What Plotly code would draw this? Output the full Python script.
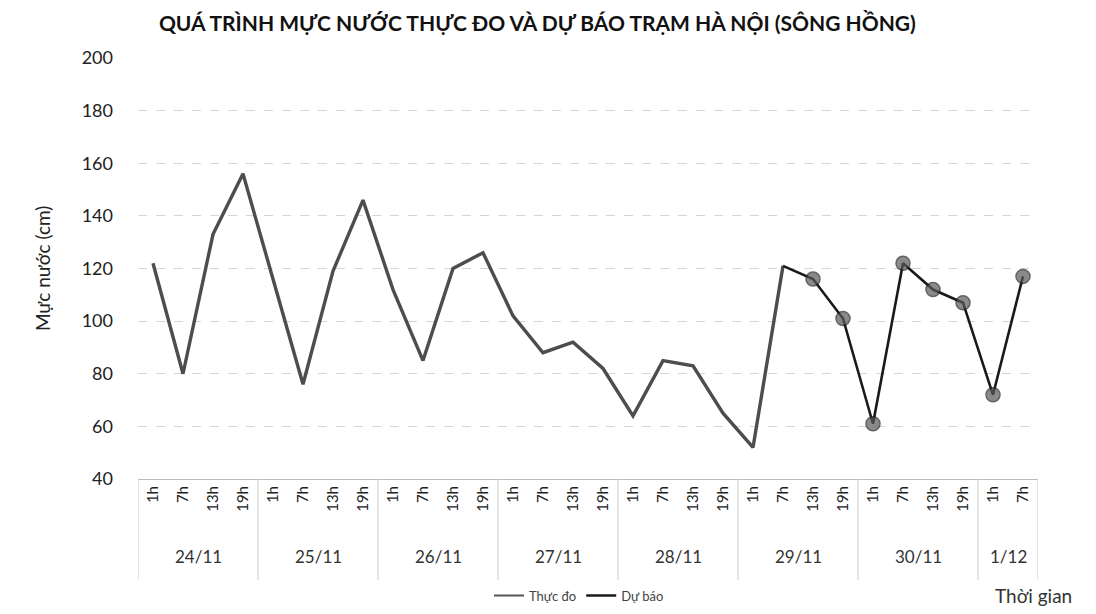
import plotly.graph_objects as go

days = ["24/11", "25/11", "26/11", "27/11", "28/11", "29/11", "30/11", "1/12"]
hours_per_day = [["1h", "7h", "13h", "19h"]] * 7 + [["1h", "7h"]]
hour_labels = [h for hs in hours_per_day for h in hs]
idx = list(range(len(hour_labels)))

observed = [122, 80, 133, 156, 116, 76, 119, 146, 112, 85,
            120, 126, 102, 88, 92, 82, 64, 85, 83, 65,
            52, 121]
forecast = [121, 116, 101, 61, 122, 112, 107, 72, 117]
forecast_start = 21

TITLE = "QUÁ TRÌNH MỰC NƯỚC THỰC ĐO VÀ DỰ BÁO TRẠM HÀ NỘI (SÔNG HỒNG)"
FONT = "Lato, Open Sans, sans-serif"

OBS_COLOR = "#4d4d4d"
FC_COLOR = "#1a1a1a"

fig = go.Figure()
fig.add_trace(go.Scatter(
    x=idx[:len(observed)], y=observed, mode="lines", name="Thực đo",
    line=dict(color=OBS_COLOR, width=3.4), showlegend=False,
))
fig.add_trace(go.Scatter(
    x=idx[forecast_start:forecast_start + len(forecast)], y=forecast,
    mode="lines+markers", name="Dự báo",
    line=dict(color=FC_COLOR, width=2.6),
    marker=dict(size=[0] + [14] * (len(forecast) - 1), color="#5a5a5a",
                line=dict(color="#222222", width=1.5)),
    showlegend=False,
))
# legend-only entries (line samples as in the reference)
fig.add_trace(go.Scatter(x=[None], y=[None], mode="lines", name="Thực đo",
                         line=dict(color="#555555", width=2)))
fig.add_trace(go.Scatter(x=[None], y=[None], mode="lines", name="Dự báo",
                         line=dict(color=FC_COLOR, width=2.6)))

annotations = []
shapes = []
start = 0
for d, hs in zip(days, hours_per_day):
    n = len(hs)
    center = start + (n - 1) / 2
    annotations.append(dict(x=center, y=-0.184, xref="x", yref="paper",
                            text=d, showarrow=False, xanchor="center", yanchor="middle",
                            font=dict(size=17, color="#333", family=FONT)))
    shapes.append(dict(type="line", xref="x", yref="paper",
                       x0=start - 0.5, x1=start - 0.5, y0=0, y1=-0.24,
                       line=dict(color="#cccccc", width=1)))
    start += n
shapes.append(dict(type="line", xref="x", yref="paper",
                   x0=start - 0.5, x1=start - 0.5, y0=0, y1=-0.24,
                   line=dict(color="#cccccc", width=1)))

annotations.append(dict(x=-0.106, y=0.5, xref="paper", yref="paper",
                        text="Mực nước (cm)", textangle=-90, showarrow=False,
                        xanchor="center", yanchor="middle",
                        font=dict(size=19, color="#222", family=FONT)))
annotations.append(dict(x=0.995, y=-0.277, xref="paper", yref="paper",
                        text="Thời gian", showarrow=False, xanchor="center",
                        yanchor="middle",
                        font=dict(size=19, color="#333", family=FONT)))

fig.update_layout(
    width=1096, height=614,
    margin=dict(l=130, r=66, t=50, b=141),
    paper_bgcolor="white", plot_bgcolor="white",
    title=dict(text="<b>" + TITLE + "</b>", x=0.483, xanchor="center",
               y=0.975, yanchor="middle",
               font=dict(size=21, color="#111", family=FONT)),
    xaxis=dict(range=[-0.5, len(hour_labels) - 0.5], tickmode="array",
               tickvals=idx, ticktext=hour_labels, tickangle=-90,
               tickfont=dict(size=15, color="#222", family=FONT),
               showgrid=False, zeroline=False, showline=True,
               linecolor="#bbbbbb", linewidth=1, ticks="", ticklabelstandoff=0),
    yaxis=dict(range=[40, 200], dtick=20, tickfont=dict(size=18, color="#222", family=FONT),
               showgrid=True, gridcolor="#d5d5d5", griddash="dash", gridwidth=1,
               zeroline=False, showline=False, ticks="", ticklabelstandoff=24),
    legend=dict(orientation="h", x=0.49, xanchor="center", y=-0.277, yanchor="middle",
                font=dict(size=13, color="#444", family=FONT),
                bgcolor="rgba(0,0,0,0)"),
    annotations=annotations, shapes=shapes,
    showlegend=True,
)

fig.write_html("out.html")
